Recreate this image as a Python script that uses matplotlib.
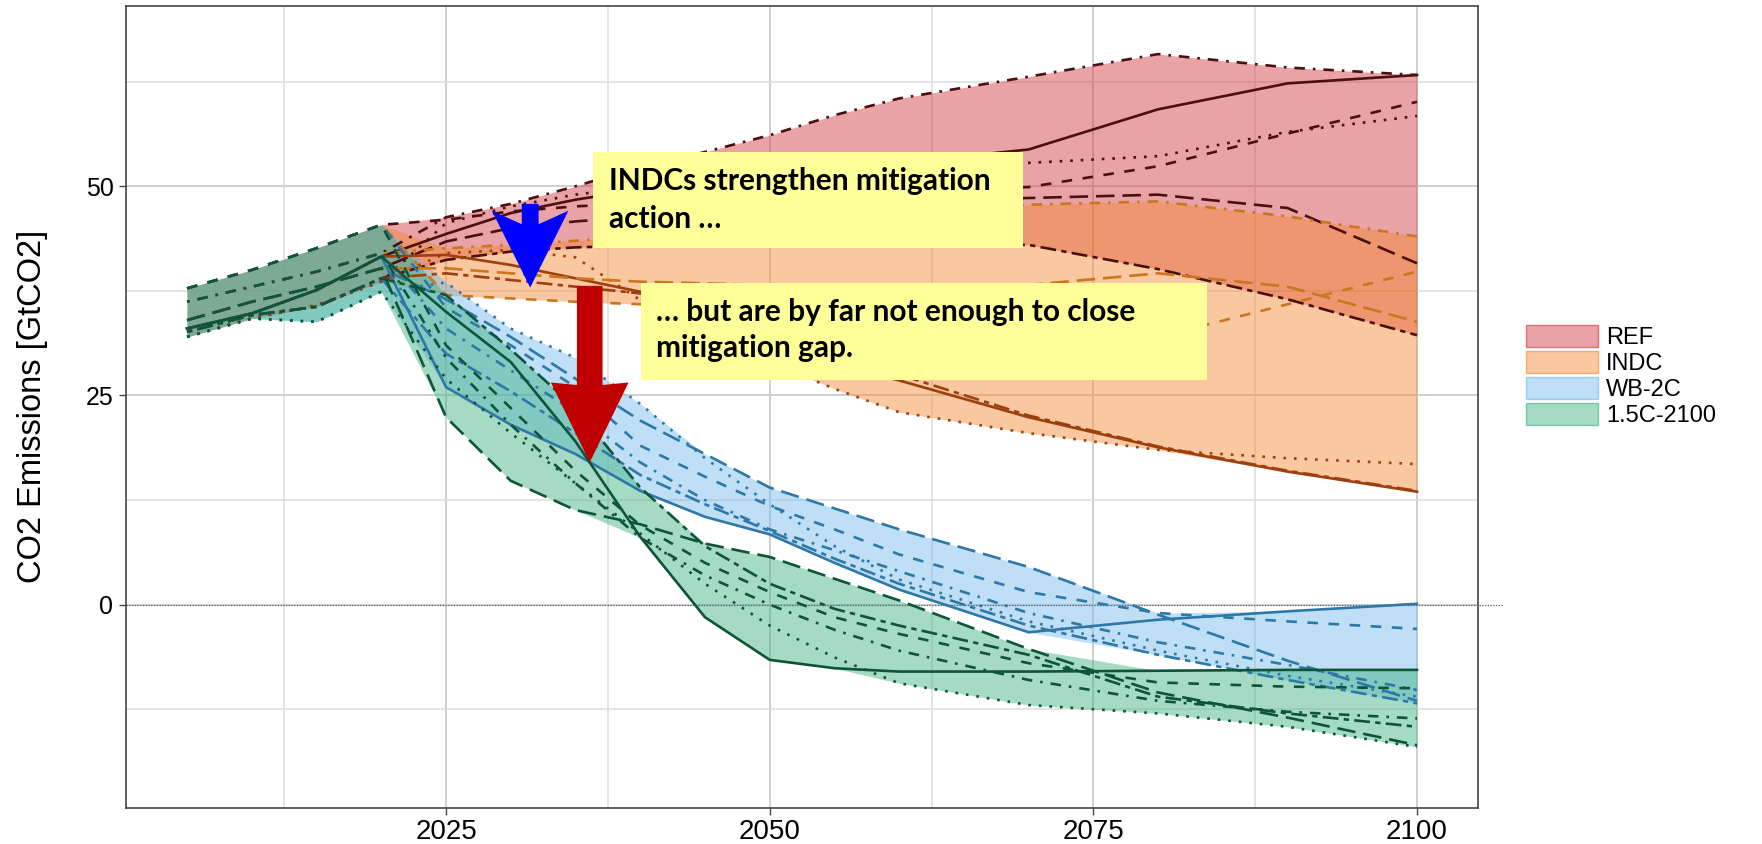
import numpy as np
import matplotlib
matplotlib.use("Agg")
import matplotlib.pyplot as plt
from matplotlib.patches import Patch, Rectangle, Polygon
from matplotlib.colors import to_rgba

years = [2005, 2010, 2015, 2020, 2025, 2030, 2035, 2040, 2045, 2050, 2055, 2060, 2070, 2080, 2090, 2100]

# historical emissions by model, 2005-2020
hist_solid = [33.0, 34.8, 37.6, 41.6]
hist_dashed = [37.8, 40.0, 42.6, 45.4]
hist_dotted = [32.0, 34.2, 35.8, 38.6]
hist_dotted_low = [32.0, 34.2, 33.8, 37.4]
hist_dashdot = [36.2, 38.0, 39.8, 42.0]
hist_longdash = [34.0, 36.2, 38.0, 40.2]
hist_twodash = [32.6, 34.6, 35.6, 39.0]

# scenario pathways, 2025-2100
ref_solid = [44.3, 46.8, 48.4, 49.6, 50.4, 51.2, 52.0, 52.8, 54.4, 59.2, 62.3, 63.3]
ref_dashed = [46.0, 47.0, 47.6, 48.0, 48.4, 48.8, 49.2, 49.5, 49.9, 52.4, 56.3, 60.1]
ref_dotted = [45.6, 47.6, 49.0, 50.0, 50.8, 51.5, 52.0, 52.4, 52.8, 53.6, 56.5, 58.4]
ref_dashdot = [46.3, 47.9, 50.0, 52.3, 54.1, 56.1, 58.5, 60.5, 63.1, 65.8, 64.2, 63.3]
ref_longdash = [43.4, 45.0, 45.8, 46.4, 47.0, 47.5, 48.0, 48.3, 48.6, 49.0, 47.4, 40.8]
ref_twodash = [41.2, 42.2, 42.7, 42.9, 43.0, 43.0, 43.0, 43.0, 43.0, 40.1, 36.5, 32.2]

indc_solid = [41.8, 40.6, 39.0, 37.4, 34.2, 31.0, 28.8, 26.8, 22.4, 18.8, 15.9, 13.5]
indc_dashed = [37.0, 36.6, 36.2, 35.9, 35.4, 34.9, 34.4, 33.9, 33.0, 32.0, 35.9, 39.8]
indc_dotted = [42.0, 42.4, 41.5, 36.4, 32.0, 29.0, 25.8, 23.0, 20.5, 18.5, 17.5, 16.8]
indc_dashdot = [42.6, 43.0, 43.5, 44.0, 44.6, 45.2, 46.0, 46.8, 47.8, 48.2, 46.4, 44.0]
indc_longdash = [40.2, 39.6, 39.0, 38.6, 38.4, 38.2, 38.0, 38.0, 38.2, 39.6, 38.0, 33.8]
indc_twodash = [39.6, 38.8, 38.0, 37.2, 35.0, 32.5, 30.0, 27.5, 22.6, 18.9, 16.0, 13.6]

wb_solid = [26.0, 21.5, 18.0, 13.6, 10.5, 8.4, 5.0, 1.8, -3.3, -1.8, -0.8, 0.1]
wb_dashed = [35.5, 31.0, 26.0, 19.0, 15.3, 11.8, 9.0, 6.0, 1.5, -1.0, -2.0, -2.9]
wb_dotted = [38.5, 33.0, 29.5, 24.0, 17.5, 12.0, 7.0, 3.0, -2.0, -5.5, -8.5, -11.0]
wb_dashdot = [33.0, 28.0, 23.0, 17.0, 12.5, 9.0, 6.5, 4.0, -1.0, -4.5, -7.2, -10.2]
wb_longdash = [36.5, 32.0, 27.0, 22.0, 18.0, 14.0, 11.5, 9.0, 4.5, -1.2, -6.7, -11.5]
wb_twodash = [30.0, 25.5, 20.5, 15.5, 12.0, 8.8, 5.5, 2.5, -2.5, -6.0, -9.0, -11.8]

c15_solid = [35.0, 29.0, 19.5, 8.1, -1.5, -6.6, -7.6, -8.0, -8.0, -7.9, -7.8, -7.8]
c15_dashed = [31.0, 23.5, 16.0, 9.5, 5.0, 1.5, -1.5, -3.5, -7.0, -9.3, -9.8, -10.0]
c15_dotted = [27.0, 20.5, 14.5, 8.5, 2.5, -2.5, -6.3, -9.4, -12.0, -13.0, -14.6, -17.0]
c15_dashdot = [29.5, 21.5, 14.5, 8.0, 3.5, 0.0, -3.0, -5.5, -9.0, -11.5, -12.8, -13.6]
c15_longdash = [22.4, 14.8, 11.3, 9.6, 7.3, 5.7, 3.1, 0.5, -5.3, -10.5, -13.5, -16.8]
c15_twodash = [37.0, 30.5, 23.5, 14.0, 7.0, 2.5, -0.5, -2.5, -6.0, -11.0, -13.0, -14.6]

scenario_names = ["REF", "INDC", "WB-2C", "1.5C-2100"]
fill_colors = ["#D0333B", "#F2872C", "#6FBAEB", "#39B180"]
line_colors = ["#4B0F0F", "#C9761E", "#2E78A8", "#0E5438"]

linestyles = {
    "solid": "-",
    "dashed": (0, (4, 4)),
    "dotted": (0, (1, 3)),
    "dashdot": (0, (1, 3, 4, 3)),
    "longdash": (0, (7, 3)),
    "twodash": (0, (2, 2, 6, 2)),
}

scenarios = {
    "REF": {"solid": hist_solid + ref_solid, "dashed": hist_dashed + ref_dashed,
            "dotted": hist_dotted + ref_dotted, "dashdot": hist_dashdot + ref_dashdot,
            "longdash": hist_longdash + ref_longdash, "twodash": hist_twodash + ref_twodash},
    "INDC": {"solid": hist_solid + indc_solid, "dashed": hist_dashed + indc_dashed,
             "dotted": hist_dotted + indc_dotted, "dashdot": hist_dashdot + indc_dashdot,
             "longdash": hist_longdash + indc_longdash, "twodash": hist_twodash + indc_twodash},
    "WB-2C": {"solid": hist_solid + wb_solid, "dashed": hist_dashed + wb_dashed,
              "dotted": hist_dotted_low + wb_dotted, "dashdot": hist_dashdot + wb_dashdot,
              "longdash": hist_longdash + wb_longdash, "twodash": hist_twodash + wb_twodash},
    "1.5C-2100": {"solid": hist_solid + c15_solid, "dashed": hist_dashed + c15_dashed,
                  "dotted": hist_dotted_low + c15_dotted, "dashdot": hist_dashdot + c15_dashdot,
                  "longdash": hist_longdash + c15_longdash, "twodash": hist_twodash + c15_twodash},
}

fill_alpha = 0.45
tick_font = "Liberation Sans"
box_font = "Lato"

fig = plt.figure(figsize=(17.62, 8.44), dpi=100)
ax = fig.add_axes([0.0715, 0.0432, 0.7676, 0.9502])

# ribbons: min/max envelope over the models of each scenario
for name, fc in zip(scenario_names, fill_colors):
    vals = np.array(list(scenarios[name].values()))
    ax.fill_between(years, vals.min(axis=0), vals.max(axis=0), color=fc,
                    alpha=fill_alpha, lw=0, zorder=2)

ax.axhline(0, xmin=0, xmax=1.018, color="#55607a", lw=0.9, ls=(0, (1, 1.2)),
           clip_on=False, zorder=3)

for name, lc in zip(scenario_names, line_colors):
    for style, vals in scenarios[name].items():
        c = lc
        if name == "INDC" and style in ("solid", "dotted", "twodash"):
            c = "#9E3F0E"
        ax.plot(years, vals, color=c, ls=linestyles[style], lw=1.9, zorder=4)

# text boxes
box_color = "#FFFF99"
ax.add_patch(Rectangle((2036.35, 42.65), 2069.6 - 2036.35, 54.1 - 42.65,
                       facecolor=box_color, edgecolor="none", zorder=6))
ax.add_patch(Rectangle((2040.06, 26.87), 2083.75 - 2040.06, 38.4 - 26.87,
                       facecolor=box_color, edgecolor="none", zorder=6))
box_text = dict(family=box_font, weight="bold", fontsize=21.5, color="black",
                ha="left", va="baseline", zorder=7)
ax.text(2037.6, 49.57, "INDCs strengthen mitigation", **box_text)
ax.text(2037.6, 45.04, "action \u2026", **box_text)
ax.text(2041.2, 33.95, "\u2026 but are by far not enough to close", **box_text)
ax.text(2041.2, 29.6, "mitigation gap.", **box_text)


def down_arrow(xc, y_top, y_head, y_tip, shaft_w, head_w, notch):
    return [(xc - shaft_w / 2, y_top), (xc + shaft_w / 2, y_top),
            (xc + shaft_w / 2, y_head - notch), (xc + head_w / 2, y_head),
            (xc, y_tip), (xc - head_w / 2, y_head),
            (xc - shaft_w / 2, y_head - notch)]


ax.add_patch(Polygon(down_arrow(2031.5, 47.9, 47.07, 37.9, 1.3, 5.9, 1.6),
                     closed=True, facecolor="#0000FF", edgecolor="none", zorder=6))
ax.add_patch(Polygon(down_arrow(2036.1, 38.1, 26.55, 17.0, 1.98, 6.0, 0.3),
                     closed=True, facecolor="#C00000", edgecolor="none", zorder=6))

# axes, grid, ticks
ax.set_xlim(2000.28, 2104.75)
ax.set_ylim(-24.25, 71.6)
ax.set_xticks([2025, 2050, 2075, 2100])
ax.set_xticks([2012.5, 2037.5, 2062.5, 2087.5], minor=True)
ax.set_yticks([0, 25, 50])
ax.set_yticks([-12.5, 12.5, 37.5, 62.5], minor=True)
ax.grid(which="major", color="#CFCFCF", lw=1.4, zorder=0)
ax.grid(which="minor", color="#DCDCDC", lw=1.1, zorder=0)
ax.set_axisbelow(True)
ax.tick_params(which="major", length=5, width=1, color="#444444", pad=4)
ax.tick_params(axis="x", which="major", labelsize=20, pad=3)
ax.tick_params(axis="y", which="major", labelsize=18)
ax.tick_params(which="minor", length=0)
for lab in ax.get_xticklabels() + ax.get_yticklabels():
    lab.set_family(tick_font)
for sp in ax.spines.values():
    sp.set_color("#444444")
    sp.set_linewidth(1.2)

ax.set_ylabel("CO2 Emissions [GtCO2]", fontsize=23.5, family=tick_font)
ax.yaxis.set_label_coords(-0.058, 0.5)

handles = [Patch(facecolor=to_rgba(c, fill_alpha), edgecolor=to_rgba(c, 0.6), lw=1)
           for c in fill_colors]
fig.legend(handles, scenario_names, loc="upper left", bbox_to_anchor=(0.866, 0.615),
           frameon=False, prop={"family": tick_font, "size": 17},
           handlelength=3.05, handleheight=1.06, handletextpad=0.34,
           labelspacing=0.08, borderpad=0, borderaxespad=0)

fig.savefig("out.png", dpi=100)
